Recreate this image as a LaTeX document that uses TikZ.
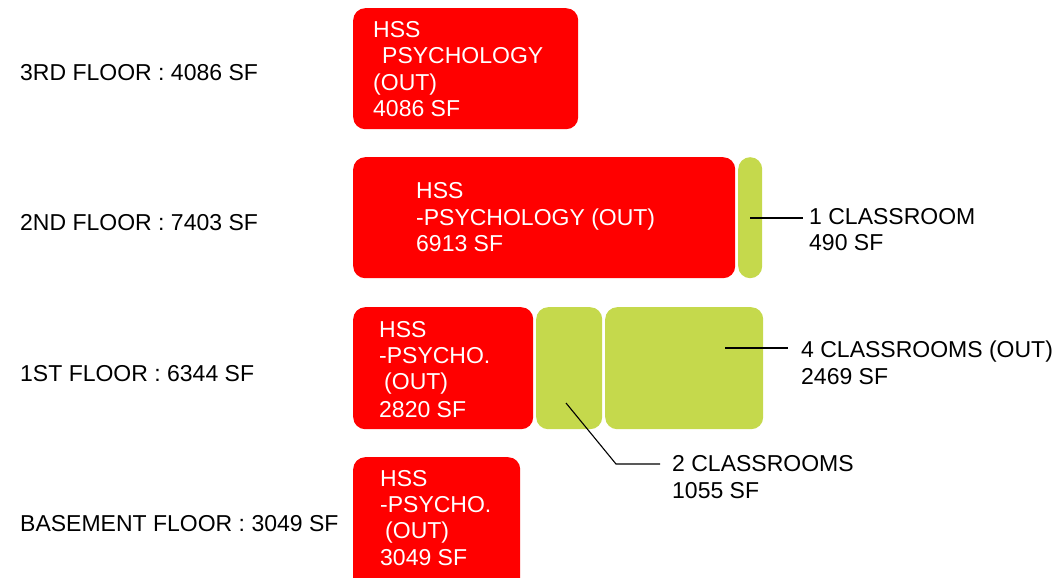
\documentclass[tikz,border=0pt]{standalone}
\usepackage{fontspec}
\setmainfont{Liberation Sans}
\definecolor{boxred}{RGB}{255,0,0}
\definecolor{boxgreen}{RGB}{197,217,76}
\begin{document}
\begin{tikzpicture}[x=1pt,y=-1pt,
  redbox/.style={fill=boxred,draw=none,rounded corners=12pt,anchor=north west,inner sep=0pt},
  greenbox/.style={fill=boxgreen,draw=none,rounded corners=12pt,anchor=north west,inner sep=0pt},
  txt/.style={anchor=base west,inner sep=0pt,font=\fontsize{23}{26}\selectfont,text=black},
  wtxt/.style={txt,text=white},
  conn/.style={draw=black,line width=1.1pt}]
\useasboundingbox (0,0) rectangle (1058,578);
% floor labels
\node[txt] (l3) at (20,81) {3RD FLOOR : 4086 SF};
\node[txt] (l2) at (20,230) {2ND FLOOR : 7403 SF};
\node[txt] (l1) at (20,381) {1ST FLOOR : 6344 SF};
\node[txt] (l0) at (20,531) {BASEMENT FLOOR : 3049 SF};
% boxes
\node[redbox,minimum width=225,minimum height=121] (r3) at (353,8) {};
\node[redbox,minimum width=382,minimum height=121] (r2) at (353,157) {};
\node[greenbox,minimum width=24,minimum height=121] (g2) at (738,157) {};
\node[redbox,minimum width=180,minimum height=122] (r1) at (353,307) {};
\node[greenbox,minimum width=66,minimum height=122] (g1a) at (536,307) {};
\node[greenbox,minimum width=158,minimum height=122] (g1b) at (605,307) {};
\node[redbox,minimum width=167,minimum height=140] (r0) at (353,457) {};
% texts in boxes
\node[wtxt] (t3a) at (373,38) {HSS};
\node[wtxt] (t3b) at (382,64) {PSYCHOLOGY};
\node[wtxt] (t3c) at (373,90) {(OUT)};
\node[wtxt] (t3d) at (373,116) {4086 SF};
\node[wtxt] (t2a) at (416,198) {HSS};
\node[wtxt] (t2b) at (416,225) {-PSYCHOLOGY (OUT)};
\node[wtxt] (t2c) at (416,251) {6913 SF};
\node[wtxt] (t1a) at (379,337) {HSS};
\node[wtxt] (t1b) at (379,363) {-PSYCHO.};
\node[wtxt] (t1c) at (384,389) {(OUT)};
\node[wtxt] (t1d) at (379,417) {2820 SF};
\node[wtxt] (t0a) at (380,486) {HSS};
\node[wtxt] (t0b) at (380,512) {-PSYCHO.};
\node[wtxt] (t0c) at (385,538) {(OUT)};
\node[wtxt] (t0d) at (380,565) {3049 SF};
% callout labels
\node[txt] (c2a) at (809,224) {1 CLASSROOM};
\node[txt] (c2b) at (809,250) {490 SF};
\node[txt] (c1a) at (801,357) {4 CLASSROOMS (OUT)};
\node[txt] (c1b) at (801,384) {2469 SF};
\node[txt] (c0a) at (672,471) {2 CLASSROOMS};
\node[txt] (c0b) at (672,498) {1055 SF};
% connectors
\coordinate (p2) at (750,218);
\coordinate (q2) at (803,218);
\coordinate (p1) at (725,348);
\coordinate (q1) at (788,348);
\coordinate (p0) at (566,403);
\coordinate (k0) at (616,464);
\coordinate (q0) at (660,464);
\draw[conn] (p2) -- (q2);
\draw[conn] (p1) -- (q1);
\draw[conn] (p0) -- (k0) -- (q0);
\end{tikzpicture}
\end{document}
